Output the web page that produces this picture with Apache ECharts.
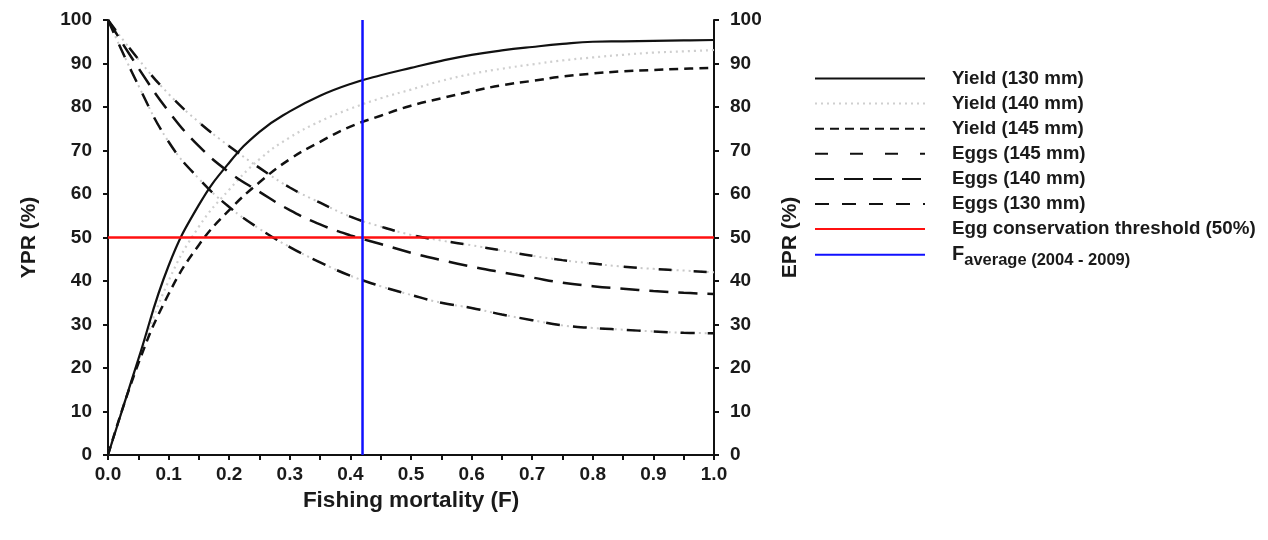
<!DOCTYPE html>
<html>
<head>
<meta charset="utf-8">
<script src="https://cdn.jsdelivr.net/npm/echarts@6/dist/echarts.min.js"></script>
<style>
html,body{margin:0;padding:0;background:#fff;}
#chart{width:1268px;height:540px;}
</style>
</head>
<body>
<div id="chart"></div>
<script>
// Fishing mortality values (x)
const fishingMortality = [0, 0.05, 0.1, 0.15, 0.2, 0.25, 0.3, 0.35, 0.4, 0.45, 0.5, 0.55, 0.6, 0.65, 0.7, 0.75, 0.8, 0.85, 0.9, 0.95, 1.0];
// Yield per recruit (%)
const yield130 = [0, 22, 43.5, 57.5, 67.2, 74.3, 79, 82.6, 85.3, 87.3, 89, 90.6, 92, 93, 93.8, 94.5, 95, 95.1, 95.2, 95.3, 95.4];
const yield140 = [0, 21.5, 40, 52.5, 61, 68, 73, 76.7, 79.6, 82, 84, 86, 87.6, 88.8, 89.8, 90.7, 91.4, 92, 92.5, 92.8, 93.1];
const yield145 = [0, 21, 37, 48.3, 56.3, 62.7, 68, 72, 75.5, 78, 80.3, 82, 83.6, 85, 86, 87, 87.7, 88.2, 88.5, 88.8, 89];
// Eggs per recruit (%)
const eggs145 = [100, 91, 83, 76.5, 71, 66, 61.5, 58, 54.8, 52.5, 50.6, 49.3, 48.2, 47, 45.8, 44.8, 44, 43.3, 42.8, 42.4, 42];
const eggs140 = [100, 89, 79, 71, 65, 60.5, 56.3, 53, 50.5, 48.5, 46.5, 44.8, 43.3, 42, 40.8, 39.6, 38.8, 38.2, 37.7, 37.3, 37];
const eggs130 = [100, 85, 72, 63.5, 57, 52, 47.8, 44.3, 41.2, 38.8, 36.8, 35, 33.8, 32.3, 31, 29.8, 29.2, 28.8, 28.4, 28.1, 28];
// Reference lines
const thresholdF = [0, 1];
const thresholdValue = [50, 50];
const fAverage = 0.42;
const fAverageRange = [0, 100];
// Tick labels
const xTicks = ['0.0','0.1','0.2','0.3','0.4','0.5','0.6','0.7','0.8','0.9','1.0'];
const yTicks = ['0','10','20','30','40','50','60','70','80','90','100'];

const names = {
  y130: 'Yield (130 mm)', y140: 'Yield (140 mm)', y145: 'Yield (145 mm)',
  e145: 'Eggs (145 mm)', e140: 'Eggs (140 mm)', e130: 'Eggs (130 mm)',
  thr: 'Egg conservation threshold (50%)', fav: 'Faverage'
};

function pairs(xs, ys) { return xs.map((x, i) => [x, ys[i]]); }

const FONT = '"Liberation Sans", Arial, sans-serif';
const chart = echarts.init(document.getElementById('chart'), null, {renderer: 'canvas'});

function lineSeries(name, data, style, z, yIndex) {
  return {
    name: name, type: 'line', data: data, yAxisIndex: yIndex || 0,
    showSymbol: false, symbol: 'none', smooth: 0.45, z: z || 2,
    lineStyle: style, itemStyle: {color: style.color},
    emphasis: {disabled: true}, animation: false
  };
}

const grayDots = {color: '#c8c8c8', width: 2, type: [2, 4]};
const TXT = '#1a1a1a';

const option = {
  animation: false,
  textStyle: {fontFamily: FONT},
  grid: {left: 108, right: 554, top: 20, bottom: 85, containLabel: false},
  legend: {
    orient: 'vertical', left: 809, top: 64,
    itemWidth: 110, itemHeight: 14, itemGap: 6.1,
    itemStyle: {opacity: 0, borderWidth: 0},
    data: [names.y130, names.y140, names.y145, names.e145, names.e140, names.e130, names.thr, names.fav],
    textStyle: {
      fontFamily: FONT, fontWeight: 'bold', fontSize: 18.8, color: TXT,
      padding: [0, 0, 0, 22],
      rich: {
        big: {fontFamily: FONT, fontWeight: 'bold', fontSize: 20, color: TXT},
        sub: {fontFamily: FONT, fontWeight: 'bold', fontSize: 16.5, color: TXT, padding: [12, 0, 0, 0]}
      }
    },
    formatter: function (n) {
      if (n === names.fav) return '{big|F}{sub|average (2004 - 2009)}';
      return n;
    },
    selectedMode: false
  },
  xAxis: {
    type: 'value', min: 0, max: 1, interval: 0.1,
    axisLine: {show: true, lineStyle: {color: '#111', width: 2}},
    axisTick: {show: true, inside: false, length: 5, lineStyle: {color: '#111', width: 2}},
    minorTick: {show: true, splitNumber: 2, length: 5, lineStyle: {color: '#111', width: 2}},
    splitLine: {show: false},
    axisLabel: {
      margin: 10, fontSize: 19, fontWeight: 'bold', color: TXT, fontFamily: FONT,
      formatter: function (v) { return xTicks[Math.round(v * 10)]; }
    },
    name: 'Fishing mortality (F)', nameLocation: 'middle', nameGap: 32,
    nameTextStyle: {fontSize: 22.5, fontWeight: 'bold', color: TXT, fontFamily: FONT}
  },
  yAxis: [
    {
      type: 'value', min: 0, max: 100, interval: 10, position: 'left',
      axisLine: {show: true, lineStyle: {color: '#111', width: 2}},
      axisTick: {show: true, inside: false, length: 5, lineStyle: {color: '#111', width: 2}},
      splitLine: {show: false},
      axisLabel: {
        margin: 16, fontSize: 19, fontWeight: 'bold', color: TXT, fontFamily: FONT,
        formatter: function (v) { return yTicks[Math.round(v / 10)]; }
      },
      name: 'YPR (%)', nameLocation: 'middle', nameGap: 68, nameRotate: 90,
      nameTextStyle: {fontSize: 21, fontWeight: 'bold', color: TXT, fontFamily: FONT}
    },
    {
      type: 'value', min: 0, max: 100, interval: 10, position: 'right',
      axisLine: {show: true, lineStyle: {color: '#111', width: 2}},
      axisTick: {show: true, inside: false, length: 5, lineStyle: {color: '#111', width: 2}},
      splitLine: {show: false},
      axisLabel: {
        margin: 16, fontSize: 19, fontWeight: 'bold', color: TXT, fontFamily: FONT,
        formatter: function (v) { return yTicks[Math.round(v / 10)]; }
      },
      name: 'EPR (%)', nameLocation: 'middle', nameGap: 66, nameRotate: 90,
      nameTextStyle: {fontSize: 21, fontWeight: 'bold', color: TXT, fontFamily: FONT}
    }
  ],
  series: [
    // faint dots that fill the gaps of the dash-dot egg curves
    lineSeries('_e145dots', pairs(fishingMortality, eggs145), grayDots, 1, 1),
    lineSeries('_e130dots', pairs(fishingMortality, eggs130), grayDots, 1, 1),
    lineSeries(names.y130, pairs(fishingMortality, yield130), {color: '#111', width: 2.2, type: 'solid'}, 3),
    lineSeries(names.y140, pairs(fishingMortality, yield140), {color: '#cfcfcf', width: 2.2, type: [2, 4]}, 2),
    lineSeries(names.y145, pairs(fishingMortality, yield145), {color: '#111', width: 2.5, type: [9, 6]}, 3),
    lineSeries(names.e145, pairs(fishingMortality, eggs145), {color: '#111', width: 2.5, type: [13, 22]}, 3, 1),
    lineSeries(names.e140, pairs(fishingMortality, eggs140), {color: '#111', width: 2.5, type: [19, 10]}, 3, 1),
    lineSeries(names.e130, pairs(fishingMortality, eggs130), {color: '#111', width: 2.5, type: [14, 13]}, 3, 1),
    {
      name: names.thr, type: 'line', data: pairs(thresholdF, thresholdValue),
      showSymbol: false, symbol: 'none', z: 4,
      lineStyle: {color: '#ff1010', width: 2.5}, itemStyle: {color: '#ff1010'}
    },
    {
      name: names.fav, type: 'line', data: pairs([fAverage, fAverage], fAverageRange),
      showSymbol: false, symbol: 'none', z: 5,
      lineStyle: {color: '#1010ff', width: 2.5}, itemStyle: {color: '#1010ff'}
    }
  ]
};
chart.setOption(option);
</script>
</body>
</html>
